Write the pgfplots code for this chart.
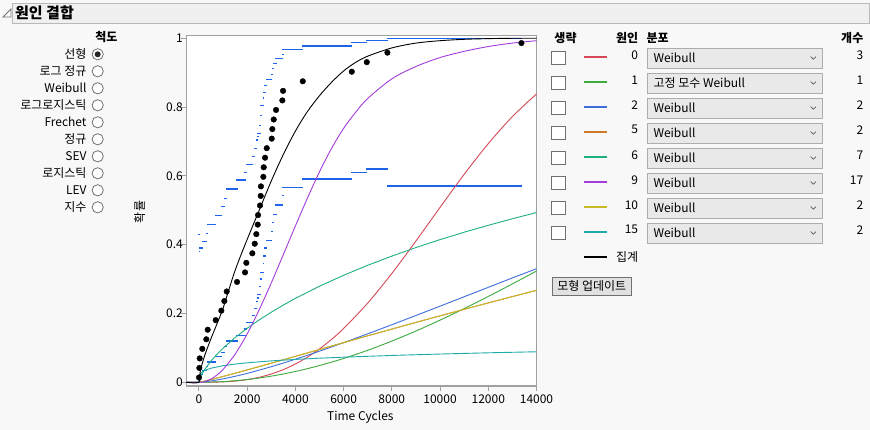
\documentclass[border=0pt]{standalone}
\usepackage{fontspec}
\setmainfont{Noto Sans CJK KR}
\usepackage{pgfplots}
\pgfplotsset{compat=1.18}

\definecolor{panelbg}{RGB}{248,248,248}
\definecolor{titlebg}{RGB}{240,240,240}
\definecolor{framegray}{RGB}{185,185,185}
\definecolor{axisgray}{RGB}{160,160,160}
\definecolor{boxgray}{RGB}{112,112,112}
\definecolor{dropbg}{RGB}{233,233,233}
\definecolor{dropline}{RGB}{173,173,173}
\definecolor{btnbg}{RGB}{225,225,225}
\definecolor{bandblue}{RGB}{30,100,235}
\definecolor{c0}{RGB}{212,72,88}
\definecolor{c1}{RGB}{60,170,60}
\definecolor{c2}{RGB}{60,110,220}
\definecolor{c5}{RGB}{208,120,40}
\definecolor{c6}{RGB}{30,175,130}
\definecolor{c9}{RGB}{165,60,220}
\definecolor{c10}{RGB}{200,185,40}
\definecolor{c15}{RGB}{30,170,170}

\newcommand\uif{\fontsize{12}{14}\selectfont}
\newcommand\uib{\fontsize{12}{14}\selectfont\bfseries}

\begin{document}
\begin{tikzpicture}[x=1pt,y=1pt]
% the axis box has its lower left corner at (0,0); the panel is drawn around it
\fill[panelbg] (-186.3,-44) rectangle (683.7,386);

% ---------- interface, drawn in screen pixels (y downwards)
\begin{scope}[shift={(-186.3,386)},yscale=-1,
  ui/.style={font=\uif,inner sep=0pt,text=black}]
  % title bar
  \filldraw[fill=titlebg,draw=framegray] (12,3) rectangle (869.5,23.5);
  \filldraw[fill=white,draw=boxgray,line width=0.8pt] (3,17) -- (11,17) -- (11,9) -- cycle;
  \node[ui,anchor=west,font=\fontsize{15}{17}\selectfont\bfseries] at (15,12.6) {원인 결합};

  % scale choice
  \node[ui,font=\uib] at (106.5,36.7) {척도};
  \foreach \lab [count=\k from 0] in {선형,로그 정규,Weibull,로그로지스틱,Frechet,정규,SEV,로지스틱,LEV,지수}{
    \node[ui,anchor=east] at (86.7,54.3+17*\k) {\lab};
    \filldraw[fill=white,draw=boxgray,line width=0.8pt] (97.7,54.3+17*\k) circle[radius=5.6];
  }
  \fill[black!85] (97.7,54.3) circle[radius=3];

  % axis titles
  \node[ui,rotate=90] at (139.5,212) {확률};
  \node[ui] at (360.3,417.5) {Time Cycles};

  % cause table
  \node[ui,font=\uib] at (565.5,37.7) {생략};
  \node[ui,font=\uib,anchor=east] at (638.3,37.7) {원인};
  \node[ui,font=\uib,anchor=west] at (646.3,37.7) {분포};
  \node[ui,font=\uib,anchor=east] at (863.5,37.7) {개수};
  \foreach \cid/\col/\dist/\cnt [count=\k from 0] in
    {0/c0/Weibull/3, 1/c1/고정 모수 Weibull/1, 2/c2/Weibull/2, 5/c5/Weibull/2,
     6/c6/Weibull/7, 9/c9/Weibull/17, 10/c10/Weibull/2, 15/c15/Weibull/2}{
    \filldraw[fill=white,draw=boxgray,line width=0.9pt] (551.8,51.8+25*\k) rectangle (565.2,64.8+25*\k);
    \draw[\col,line width=2.2pt] (584.3,57.3+25*\k) -- (606.7,57.3+25*\k);
    \node[ui,anchor=east] at (638.3,54.8+25*\k) {\cid};
    \filldraw[fill=dropbg,draw=dropline,line width=0.9pt] (647.3,48.3+25*\k) rectangle (822.7,68.3+25*\k);
    \node[ui,anchor=west] at (653.3,58.3+25*\k) {\dist};
    \draw[black!65,line width=0.7pt] (810.6,56.6+25*\k) -- (813.3,59.2+25*\k) -- (816,56.6+25*\k);
    \node[ui,anchor=east] at (863.5,54.8+25*\k) {\cnt};
  }
  \draw[black,line width=2.2pt] (584.3,257.3) -- (606.7,257.3);
  \node[ui,anchor=west] at (616,256.7) {집계};
  \filldraw[fill=btnbg,draw=boxgray,line width=0.9pt] (552.3,277.3) rectangle (631.3,295.3);
  \node[ui] at (591.8,286.3) {모형 업데이트};
\end{scope}

% ---------- the plot
\begin{axis}[
    scale only axis, width=350.2pt, height=350.7pt,
    xmin=-523, xmax=14000, ymin=-0.0108, ymax=1.0087,
    axis background/.style={fill=white},
    axis line style={draw=axisgray,line width=1.3pt},
    tick align=outside, tick pos=left,
    major tick length=5.5pt,
    major tick style={draw=axisgray,line width=1pt},
    scaled x ticks=false, scaled y ticks=false,
    xtick={0,2000,4000,6000,8000,10000,12000,14000},
    xticklabels={0,2000,4000,6000,8000,10000,12000,14000},
    ytick={0,0.2,0.4,0.6,0.8,1},
    yticklabels={0,0.2,0.4,0.6,0.8,1},
    ticklabel style={font=\uif,inner sep=0pt,text=black},
    xticklabel style={anchor=north,yshift=-3.4pt},
    yticklabel style={anchor=east,xshift=2.3pt},
    /pgf/number format/assume math mode=true,
    unbounded coords=jump,
    clip=true,
]
% pointwise estimates
\addplot[only marks,mark=*,mark size=2.8pt,black] coordinates {
(4,0.0139) (17,0.0417) (33,0.0694) (141,0.0972) (307,0.1250) (365,0.1528)
(697,0.1806) (929,0.2083) (1054,0.2361) (1153,0.2639) (1581,0.2917) (1913,0.3194)
(1967,0.3472) (2216,0.3750) (2315,0.4028) (2381,0.4306) (2440,0.4583) (2452,0.4861)
(2535,0.5139) (2564,0.5417) (2572,0.5694) (2672,0.5972) (2689,0.6250) (2743,0.6528)
(2813,0.6806) (3020,0.7083) (3045,0.7361) (3103,0.7639) (3199,0.7917) (3460,0.8194)
(3489,0.8472) (4307,0.8750) (6340,0.9028) (6962,0.9306) (7817,0.9583) (13376,0.9861)};

% upper band
\addplot[bandblue,line width=1.3pt,line cap=rect] coordinates {
(4,0.43) (17,0.43) (17,nan) (17,0.38) (33,0.38) (33,nan) (33,0.39) (141,0.39) (141,nan)
(141,0.41) (307,0.41) (307,nan) (307,0.433) (365,0.433) (365,nan) (365,0.459) (697,0.459) (697,nan)
(697,0.485) (929,0.485) (929,nan) (929,0.512) (1054,0.512) (1054,nan) (1054,0.535) (1153,0.535) (1153,nan)
(1153,0.562) (1581,0.562) (1581,nan) (1581,0.588) (1913,0.588) (1913,nan) (1913,0.61) (1967,0.61) (1967,nan)
(1967,0.634) (2216,0.634) (2216,nan) (2216,0.657) (2315,0.657) (2315,nan) (2315,0.68) (2381,0.68) (2381,nan)
(2381,0.704) (2440,0.704) (2440,nan) (2440,0.714) (2452,0.714) (2452,nan) (2452,0.724) (2535,0.724) (2535,nan)
(2535,0.747) (2564,0.747) (2564,nan) (2564,0.776) (2572,0.776) (2572,nan) (2572,0.805) (2672,0.805) (2672,nan)
(2672,0.826) (2689,0.826) (2689,nan) (2689,0.843) (2743,0.843) (2743,nan) (2743,0.863) (2813,0.863) (2813,nan)
(2813,0.881) (3020,0.881) (3020,nan) (3020,0.895) (3045,0.895) (3045,nan) (3045,0.912) (3103,0.912) (3103,nan)
(3103,0.927) (3199,0.927) (3199,nan) (3199,0.942) (3460,0.942) (3460,nan) (3460,0.953) (3489,0.953) (3489,nan)
(3489,0.968) (4307,0.968) (4307,nan) (4307,0.978) (6340,0.978) (6340,nan) (6340,0.988) (6962,0.988) (6962,nan)
(6962,0.994) (7817,0.994) (7817,nan) (7817,1.0) (13376,1.0)};

% lower band
\addplot[bandblue,line width=1.3pt,line cap=rect] coordinates {
(4,0.008) (17,0.008) (17,nan) (17,0.015) (33,0.015) (33,nan) (33,0.023) (141,0.023) (141,nan)
(141,0.034) (307,0.034) (307,nan) (307,0.045) (365,0.045) (365,nan) (365,0.059) (697,0.059) (697,nan)
(697,0.074) (929,0.074) (929,nan) (929,0.087) (1054,0.087) (1054,nan) (1054,0.103) (1153,0.103) (1153,nan)
(1153,0.12) (1581,0.12) (1581,nan) (1581,0.135) (1913,0.135) (1913,nan) (1913,0.155) (1967,0.155) (1967,nan)
(1967,0.174) (2216,0.174) (2216,nan) (2216,0.195) (2315,0.195) (2315,nan) (2315,0.214) (2381,0.214) (2381,nan)
(2381,0.234) (2440,0.234) (2440,nan) (2440,0.245) (2452,0.245) (2452,nan) (2452,0.256) (2535,0.256) (2535,nan)
(2535,0.278) (2564,0.278) (2564,nan) (2564,0.30) (2572,0.30) (2572,nan) (2572,0.32) (2672,0.32) (2672,nan)
(2672,0.345) (2689,0.345) (2689,nan) (2689,0.367) (2743,0.367) (2743,nan) (2743,0.39) (2813,0.39) (2813,nan)
(2813,0.413) (3020,0.413) (3020,nan) (3020,0.439) (3045,0.439) (3045,nan) (3045,0.465) (3103,0.465) (3103,nan)
(3103,0.488) (3199,0.488) (3199,nan) (3199,0.515) (3460,0.515) (3460,nan) (3460,0.542) (3489,0.542) (3489,nan)
(3489,0.567) (4307,0.567) (4307,nan) (4307,0.591) (6340,0.591) (6340,nan) (6340,0.61) (6962,0.61) (6962,nan)
(6962,0.62) (7817,0.62) (7817,nan) (7817,0.571) (13376,0.571)};

% cause 0
\addplot[c0,line width=0.9pt,smooth] coordinates {
(-523,0) (0,0) (500,0.0002) (1000,0.0011) (1500,0.0035) (2000,0.0078) (2500,0.0145) (3000,0.0241)
(3500,0.0368) (4000,0.0531) (4500,0.0731) (5000,0.0970) (5500,0.1247) (6000,0.1563) (7000,0.2302)
(8000,0.3163) (9000,0.4106) (10000,0.5084) (11000,0.6045) (12000,0.6937) (13000,0.7724) (14000,0.8383)};
% cause 1
\addplot[c1,line width=0.9pt,smooth] coordinates {
(-523,0) (0,0) (1000,0.0020) (2000,0.0079) (3000,0.0178) (4000,0.0314) (5000,0.0486) (6000,0.0692)
(7000,0.0930) (8000,0.1198) (9000,0.1490) (10000,0.1807) (11000,0.2142) (12000,0.2495) (13000,0.2860) (14000,0.3233)};
% cause 2
\addplot[c2,line width=0.9pt,smooth] coordinates {
(-523,0) (0,0) (100,0.0004) (250,0.0014) (500,0.0038) (1000,0.0099) (1500,0.0174) (2000,0.0259)
(3000,0.0453) (4000,0.0670) (5000,0.0904) (6000,0.1152) (7000,0.1409) (8000,0.1673) (9000,0.1942)
(10000,0.2213) (11000,0.2487) (12000,0.2760) (13000,0.3033) (14000,0.3302)};
% cause 5
\addplot[c5,line width=0.9pt,smooth] coordinates {
(-523,0) (0,0) (100,0.0014) (250,0.0037) (500,0.0079) (750,0.0124) (1000,0.0169) (1500,0.0263)
(2000,0.0359) (3000,0.0555) (4000,0.0754) (5000,0.0953) (6000,0.1152) (7000,0.1351) (8000,0.1546)
(9000,0.1740) (10000,0.1932) (11000,0.2121) (12000,0.2307) (13000,0.2491) (14000,0.2672)};
% cause 10
\addplot[c10,line width=0.9pt,smooth] coordinates {
(-523,0) (0,0) (100,0.0014) (250,0.0037) (500,0.0079) (750,0.0124) (1000,0.0169) (1500,0.0263)
(2000,0.0359) (3000,0.0555) (4000,0.0754) (5000,0.0953) (6000,0.1152) (7000,0.1351) (8000,0.1546)
(9000,0.1740) (10000,0.1932) (11000,0.2121) (12000,0.2307) (13000,0.2491) (14000,0.2672)};
% cause 6
\addplot[c6,line width=0.9pt] coordinates {
(-523,0) (0,0) (10,0.004) (50,0.0124) (100,0.0202) (250,0.0383) (500,0.0618) (750,0.0816) (1000,0.0991)
(1500,0.1299) (2000,0.1570) (2500,0.1813) (3000,0.2037) (3500,0.2244) (4000,0.2438) (5000,0.2792)
(6000,0.3110) (7000,0.3401) (8000,0.3668) (9000,0.3916) (10000,0.4147) (11000,0.4362) (12000,0.4563)
(13000,0.4754) (14000,0.4934)};
% cause 15
\addplot[c15,line width=0.9pt] coordinates {
(-523,0) (0,0) (10,0.0162) (50,0.0237) (100,0.0280) (250,0.0347) (500,0.0409) (1000,0.0481) (1500,0.0529)
(2000,0.0566) (3000,0.0622) (4000,0.0665) (5000,0.0700) (6000,0.0730) (8000,0.0780) (10000,0.0821)
(12000,0.0857) (14000,0.0887)};
% cause 9
\addplot[c9,line width=0.9pt,smooth] coordinates {
(-523,0) (0,0) (250,0.0024) (500,0.0094) (750,0.0211) (1000,0.0371) (1500,0.0816) (2000,0.1405)
(2500,0.2107) (3000,0.2888) (3500,0.3711) (4000,0.4543) (4500,0.5354) (5000,0.6118) (5500,0.680)
(6000,0.738) (6500,0.785) (7000,0.825) (8000,0.882) (9000,0.918) (10000,0.944) (11000,0.962)
(12000,0.976) (13000,0.986) (14000,0.993)};
% aggregate
\addplot[black,line width=0.9pt,smooth] coordinates {
(-523,0) (0,0) (50,0.03) (100,0.045) (250,0.08) (500,0.127) (750,0.17) (1000,0.215) (1500,0.325)
(2000,0.415) (2500,0.50) (3000,0.585) (3500,0.662) (4000,0.73) (4500,0.787) (5000,0.833)
(5500,0.872) (6000,0.905) (6500,0.93) (7000,0.948) (8000,0.972) (9000,0.986) (10000,0.993)
(11000,0.997) (12000,0.999) (13000,1.0) (14000,1.0)};
\end{axis}
\end{tikzpicture}
\end{document}
